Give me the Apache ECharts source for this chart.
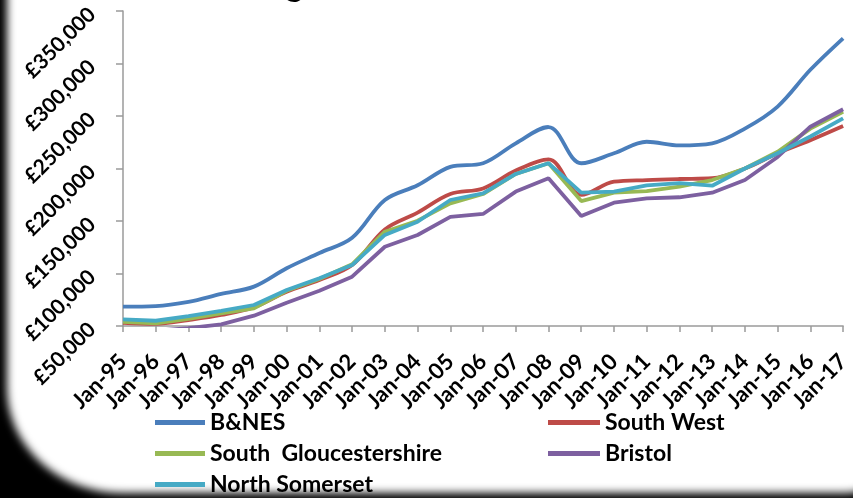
<!DOCTYPE html>
<html><head><meta charset="utf-8">
<script src="https://cdn.jsdelivr.net/npm/echarts@6/dist/echarts.min.js"></script>
<style>
html,body{margin:0;padding:0;background:#000;width:853px;height:498px;overflow:hidden;}
#frame{position:absolute;left:7px;top:-160px;width:880px;height:653px;background:#fff;border-radius:60px 40px 40px 115px / 60px 40px 40px 105px;filter:blur(4px);}
#chart{position:absolute;left:0;top:0;width:853px;height:498px;}
</style></head>
<body>
<div id="frame"></div>
<div id="chart"></div>
<script>
const categories = ['Jan-95','Jan-96','Jan-97','Jan-98','Jan-99','Jan-00','Jan-01','Jan-02','Jan-03','Jan-04','Jan-05','Jan-06','Jan-07','Jan-08','Jan-09','Jan-10','Jan-11','Jan-12','Jan-13','Jan-14','Jan-15','Jan-16','Jan-17'];
const bnes = [68500,69000,73000,80500,87500,105000,119500,134000,170000,184000,201500,205000,224000,239500,205000,214500,225500,222000,224000,238000,259000,294000,324000];
const southWest = [53000,52000,55700,60500,67800,82700,93800,108000,142000,158000,175700,181000,198000,208700,174800,187400,189000,190000,190700,200000,214500,227000,240500];
const southGlos = [54000,52500,56700,62000,66800,83600,94800,108800,139800,150300,166800,175700,194800,205000,169000,177000,178500,182700,189000,200000,216000,238000,254000];
const bristol = [46000,45500,48000,51600,59800,72200,83600,97000,125500,136700,154000,156700,178000,190700,154800,167400,171600,172600,177000,189000,211000,239800,256400];
const northSomerset = [56400,55000,59500,64300,70000,84300,95400,108000,136700,149300,170000,176400,194800,205000,177000,178000,184000,186000,183600,200000,214500,230500,247800];
const yTicks = {min:50000, max:350000, interval:50000};

const FONT = 'Lato';
const chart = echarts.init(document.getElementById('chart'), null, {renderer:'canvas'});
function gbp(v){ return '£' + v.toString().replace(/\B(?=(\d{3})+(?!\d))/g, ','); }
function mk(name, data, color, smooth){
  return {name, type:'line', data, smooth: smooth ? 0.35 : false, symbol:'none',
    lineStyle:{color, width:3.8}, itemStyle:{color}, clip:true};
}
const legendText = {fontFamily:FONT, fontWeight:'bold', fontSize:23, color:'#000', lineHeight:22};
chart.setOption({
  backgroundColor:'transparent',
  animation:false,
  textStyle:{fontFamily:FONT},
  graphic:[{type:'text', left:198, top:-32, style:{text:'Average House Prices', font:'bold 34px Lato', fill:'#000'}}],
  grid:{left:123, right:4, top:11, bottom:172, containLabel:false},
  xAxis:{type:'category', data:categories, boundaryGap:false,
    axisLine:{lineStyle:{color:'#9a9a9a', width:1.5}},
    axisTick:{show:true, length:6, lineStyle:{color:'#9a9a9a', width:1.5}},
    axisLabel:{rotate:45, margin:32, interval:0, fontFamily:FONT, fontWeight:'bold', fontSize:22, color:'#000'}},
  yAxis:{type:'value', min:yTicks.min, max:yTicks.max, interval:yTicks.interval,
    splitLine:{show:false},
    axisLine:{show:true, lineStyle:{color:'#9a9a9a', width:1.5}},
    axisTick:{show:true, length:7, lineStyle:{color:'#9a9a9a', width:1.5}},
    axisLabel:{rotate:45, margin:31, fontFamily:FONT, fontWeight:'bold', fontSize:21, color:'#000', formatter:gbp}},
  legend:[
    {data:['B&NES','South  Gloucestershire','North Somerset'], orient:'vertical', left:155, top:411, itemGap:8, padding:0, height:120,
     icon:'rect', itemWidth:50, itemHeight:5, textStyle:legendText},
    {data:['South West','Bristol'], orient:'vertical', left:548, top:411, itemGap:8, padding:0, height:120,
     icon:'rect', itemWidth:52, itemHeight:5, textStyle:legendText}
  ],
  series:[
    mk('B&NES', bnes, '#4A7EBB', true),
    mk('South West', southWest, '#BE4B48', true),
    mk('South  Gloucestershire', southGlos, '#98B954', false),
    mk('Bristol', bristol, '#7D60A0', false),
    mk('North Somerset', northSomerset, '#46AAC5', false)
  ]
});
</script>
</body></html>
